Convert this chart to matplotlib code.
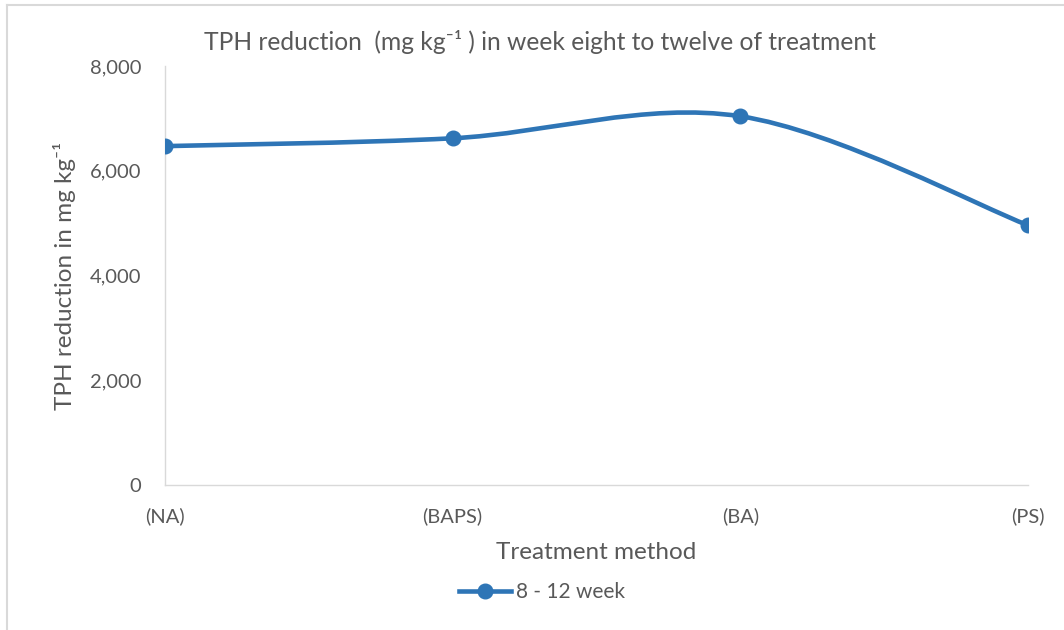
import numpy as np
import matplotlib
matplotlib.use("Agg")
import matplotlib.pyplot as plt
from matplotlib.path import Path
from matplotlib.patches import PathPatch
from matplotlib.lines import Line2D

categories = ["(NA)", "(BAPS)", "(BA)", "(PS)"]
values = [6470, 6620, 7040, 4960]
series_name = "8 - 12 week"
yticks = [0, 2000, 4000, 6000, 8000]

COLOR = "#2E75B6"
TXT = "#595959"
plt.rcParams['font.family'] = ['Lato', 'DejaVu Sans']

fig = plt.figure(figsize=(10.64, 6.3), dpi=100)
ax = fig.add_axes([165/1064, 1-485/630, (1028-165)/1064, (485-66)/630])

x = np.arange(len(categories), dtype=float)
y = np.array(values, dtype=float)

# Excel-style smoothed line (Catmull-Rom Bezier)
verts = [(x[0], y[0])]
codes = [Path.MOVETO]
n = len(x)
for i in range(n - 1):
    p0 = np.array([x[max(i-1, 0)], y[max(i-1, 0)]])
    p1 = np.array([x[i], y[i]])
    p2 = np.array([x[i+1], y[i+1]])
    p3 = np.array([x[min(i+2, n-1)], y[min(i+2, n-1)]])
    c1 = p1 + (p2 - p0) / 6
    c2 = p2 - (p3 - p1) / 6
    verts += [tuple(c1), tuple(c2), tuple(p2)]
    codes += [Path.CURVE4] * 3
ax.add_patch(PathPatch(Path(verts, codes), facecolor='none', edgecolor=COLOR,
                       lw=3.3, capstyle='round', zorder=2))
ax.plot(x, y, linestyle='none', marker='o', ms=10.5, color=COLOR, zorder=3)

ax.set_xlim(0, 3)
ax.set_ylim(0, 8000)
ax.set_xticks(x)
ax.set_xticklabels(categories)
ax.set_yticks(yticks)
ax.set_yticklabels([f"{v:,}" for v in yticks])
ax.tick_params(axis='both', length=0, labelsize=14.5, labelcolor=TXT)
ax.tick_params(axis='y', pad=17)
ax.tick_params(axis='x', pad=16)
for s in ['top', 'right']:
    ax.spines[s].set_visible(False)
for s in ['left', 'bottom']:
    ax.spines[s].set_color('#D9D9D9')
    ax.spines[s].set_linewidth(1.0)

ax.set_xlabel("Treatment method", fontsize=17.5, color=TXT, labelpad=12)
ax.set_ylabel("TPH reduction in mg kg⁻¹", fontsize=17.5, color=TXT, labelpad=10)
fig.text(540/1064, 1-42/630, "TPH reduction  (mg kg⁻¹ ) in week eight to twelve of treatment",
         ha='center', va='center', fontsize=17.7, color=TXT)

handle = Line2D([], [], color=COLOR, lw=3.3, marker='o', ms=10.5)
fig.legend([handle], [series_name], loc='center', bbox_to_anchor=(542/1064, 1-592/630),
           frameon=False, fontsize=15, labelcolor=TXT, handlelength=2.5, handletextpad=0.25)

fig.add_artist(Line2D([7/1064, 7/1064], [0, 1-5/630], color='#D9D9D9', lw=1.5, transform=fig.transFigure))
fig.add_artist(Line2D([7/1064, 1], [1-5/630, 1-5/630], color='#D9D9D9', lw=1.5, transform=fig.transFigure))

fig.savefig("out.png", dpi=100, facecolor='white')
